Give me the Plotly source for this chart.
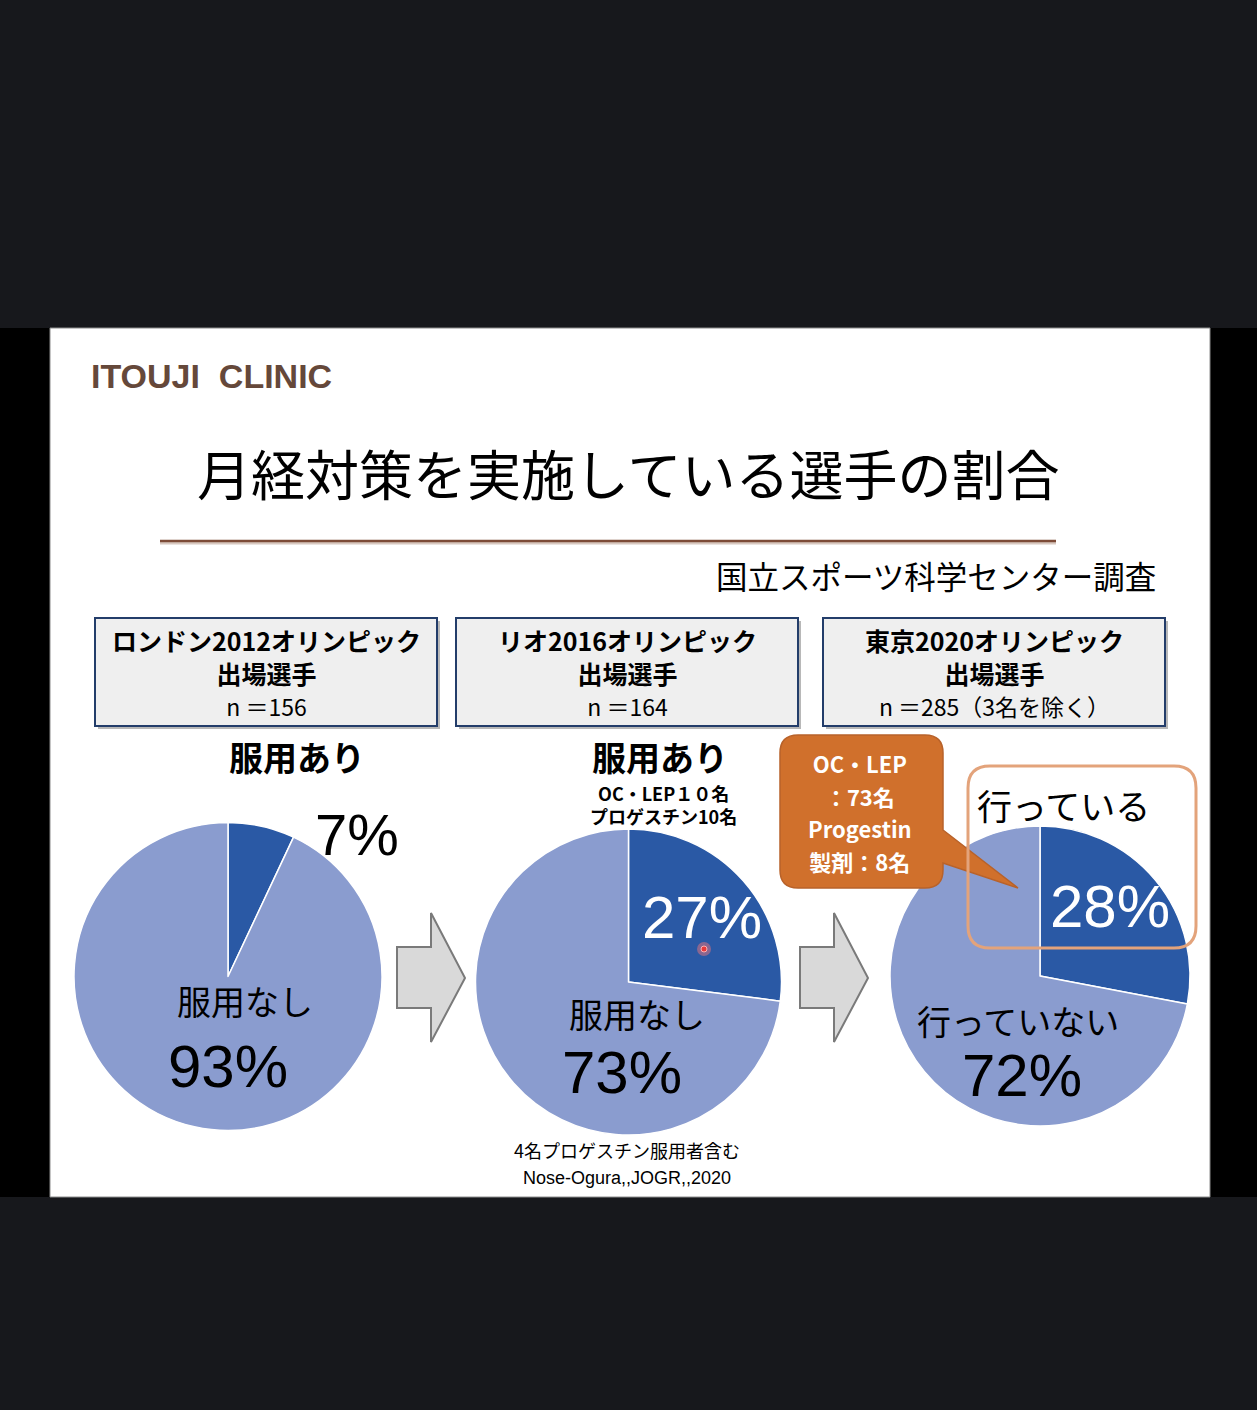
import plotly.graph_objects as go

W, H = 1257, 1410

# ---- data ----
pie_labels = [["服用あり", "服用なし"], ["服用あり", "服用なし"], ["行っている", "行っていない"]]
pie_values = [[7, 93], [27, 73], [28, 72]]
pie_pct_text = [["7%", "93%"], ["27%", "73%"], ["28%", "72%"]]
box_line1 = ["ロンドン2012オリンピック", "リオ2016オリンピック", "東京2020オリンピック"]
box_line2 = ["出場選手", "出場選手", "出場選手"]
box_line3 = ["n ＝156", "n ＝164", "n ＝285（3名を除く）"]
title_text = "月経対策を実施している選手の割合"
source_text = "国立スポーツ科学センター調査"
logo_text = "ITOUJI  CLINIC"
rio_detail = ["OC・LEP１０名", "プロゲスチン10名"]
rio_note = ["4名プロゲスチン服用者含む", "Nose-Ogura,,JOGR,,2020"]
callout_lines = ["OC・LEP", "：73名", "Progestin", "製剤：8名"]

DARK = "#2a59a5"
LIGHT = "#8a9ccf"
JP = "Noto Sans CJK JP"
LAT = "Liberation Sans"

# pie geometry (pixel centers / radii)
pie_geo = [(228, 976.5, 154), (628.5, 982, 153), (1040, 976, 150)]

fig = go.Figure()

for (cx, cy, r), labels, vals in zip(pie_geo, pie_labels, pie_values):
    fig.add_trace(go.Pie(
        labels=labels, values=vals, sort=False, direction="clockwise", rotation=0,
        marker=dict(colors=[DARK, LIGHT], line=dict(color="white", width=1.5)),
        textinfo="none", hoverinfo="none", showlegend=False,
        domain=dict(x=[(cx - r) / W, (cx + r) / W], y=[1 - (cy + r) / H, 1 - (cy - r) / H]),
    ))

shapes = []
# background regions
shapes.append(dict(type="rect", x0=0, x1=W, y0=328, y1=1197, fillcolor="black", line_width=0, layer="below"))
shapes.append(dict(type="rect", x0=50, x1=1210, y0=328, y1=1197, fillcolor="white",
                   line=dict(color="#8c8c8c", width=1), layer="below"))
# title underline
shapes.append(dict(type="line", x0=160, x1=1056, y0=543, y1=543, line=dict(color="#d8c8c0", width=3), layer="below"))
shapes.append(dict(type="line", x0=160, x1=1056, y0=541, y1=541, line=dict(color="#7d4b37", width=2.5), layer="below"))

# header boxes
box_x = [(95, 437), (456, 798), (823, 1165)]
for x0, x1 in box_x:
    shapes.append(dict(type="rect", x0=x0 + 3, x1=x1 + 3, y0=621, y1=729, fillcolor="#b8b8b8", line_width=0, layer="below"))
    shapes.append(dict(type="rect", x0=x0, x1=x1, y0=618, y1=726, fillcolor="#efefef",
                       line=dict(color="#233d6a", width=2), layer="below"))

# block arrows
for dx in (0, 403):
    p = [(397, 947), (431, 947), (431, 913), (465, 978), (431, 1042), (431, 1008), (397, 1008)]
    path = "M " + " L ".join(f"{x + dx},{y}" for x, y in p) + " Z"
    shapes.append(dict(type="path", path=path, fillcolor="#d9d9d9",
                       line=dict(color="#7a7a7a", width=2), layer="below"))

# laser pointer dot
shapes.append(dict(type="circle", x0=697, x1=711, y0=942, y1=956, fillcolor="rgba(255,120,120,0.45)", line_width=0, layer="above"))
shapes.append(dict(type="circle", x0=701, x1=707, y0=946, y1=952, fillcolor="#e83a3a", line=dict(color="#ffb0b0", width=1), layer="above"))

# callout (orange rounded rect with pointer)
callout = ("M 798,735 L 925,735 Q 943,735 943,753 L 943,830 L 1018,888 L 943,863 L 943,870 "
           "Q 943,888 925,888 L 798,888 Q 780,888 780,870 L 780,753 Q 780,735 798,735 Z")
shapes.append(dict(type="path", path=callout, fillcolor="#d0702c", line=dict(color="#b8622a", width=1.5), layer="above"))

# outline rounded box
ob = ("M 990,766 L 1174,766 Q 1196,766 1196,788 L 1196,926 Q 1196,948 1174,948 L 990,948 "
      "Q 968,948 968,926 L 968,788 Q 968,766 990,766 Z")
shapes.append(dict(type="path", path=ob, fillcolor="rgba(0,0,0,0)", line=dict(color="#e3a37b", width=3), layer="above"))

ann = []
def t(x, y, s, size, color="black", fam=JP, bold=False, xa="center"):
    ann.append(dict(x=x, y=y, xref="x", yref="y", text=s, showarrow=False, xanchor=xa, yanchor="middle",
                    font=dict(family=fam, size=size, color=color, weight="bold" if bold else "normal")))

t(89, 376, logo_text, 34, color="#65483a", fam="Liberation Sans", bold=True, xa="left")
t(628, 472, title_text, 54)
t(1158, 575, source_text, 31.5, xa="right")

for (x0, x1), l1, l2, l3 in zip(box_x, box_line1, box_line2, box_line3):
    cx = (x0 + x1) / 2
    txt = f"<b>{l1}</b><br><b>{l2}</b><br><span style='font-size:23px'>{l3}</span>"
    t(cx, 672, txt, 25)

# pie 1
t(297, 756, pie_labels[0][0], 34, bold=True)
t(357, 834, pie_pct_text[0][0], 58, fam=LAT)
t(245, 1000, pie_labels[0][1], 34)
t(228, 1066, pie_pct_text[0][1], 60, fam=LAT)
# pie 2
t(660, 756, pie_labels[1][0], 34, bold=True)
t(663, 804, f"<b>{rio_detail[0]}</b><br><b>{rio_detail[1]}</b>", 18)
t(702, 917, pie_pct_text[1][0], 60, color="white", fam=LAT)
t(637, 1013, pie_labels[1][1], 34)
t(622, 1072, pie_pct_text[1][1], 60, fam=LAT)
t(627, 1150, rio_note[0], 18)
t(627, 1178, rio_note[1], 18, fam=LAT)
# pie 3
t(860, 812, "<br>".join(f"<span style='font-size:22px'><b>{s}</b></span>" for s in callout_lines), 25, color="white")
t(1063, 804, pie_labels[2][0], 35)
t(1110, 906, pie_pct_text[2][0], 60, color="white", fam=LAT)
t(1018, 1020, pie_labels[2][1], 34)
t(1022, 1075, pie_pct_text[2][1], 60, fam=LAT)

fig.update_layout(
    width=W, height=H, margin=dict(l=0, r=0, t=0, b=0),
    paper_bgcolor="#17181c", plot_bgcolor="rgba(0,0,0,0)",
    xaxis=dict(range=[0, W], visible=False, fixedrange=True, domain=[0, 1]),
    yaxis=dict(range=[H, 0], visible=False, fixedrange=True, domain=[0, 1]),
    shapes=shapes, annotations=ann,
)

fig.write_html("out.html", config={"displayModeBar": False},
               post_script="document.body.style.margin='0';document.body.style.overflow='hidden';")
